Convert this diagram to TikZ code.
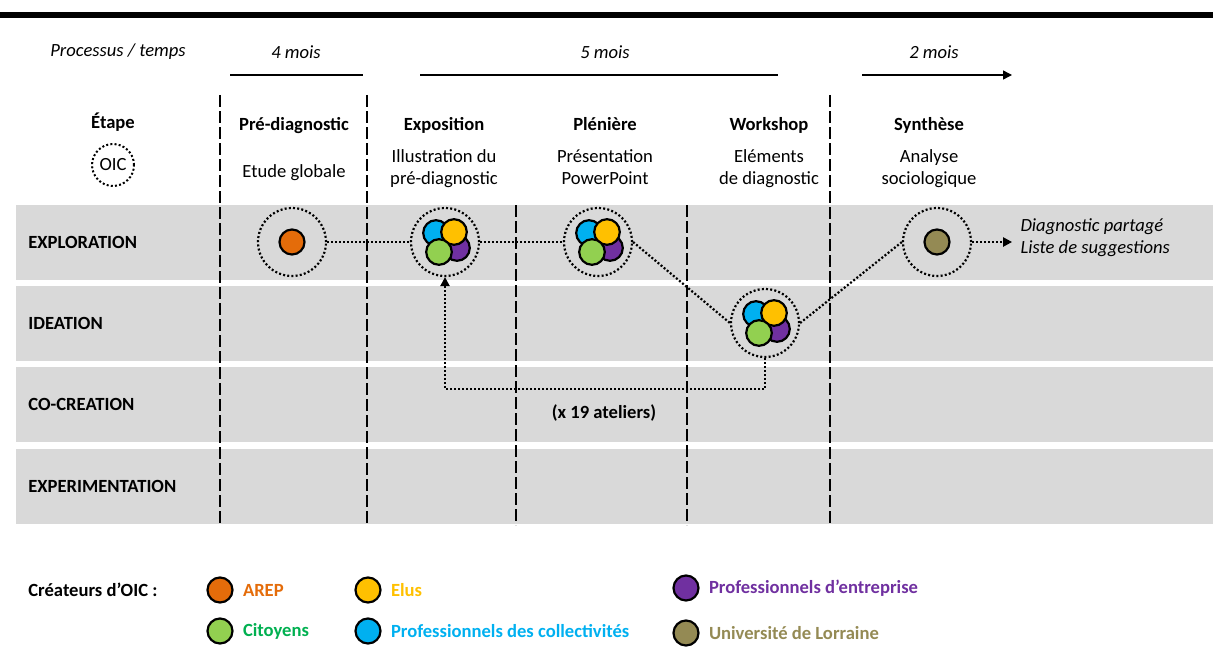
\documentclass[tikz,border=0pt]{standalone}
\usepackage{fontspec}
\setmainfont{Carlito}
\usetikzlibrary{arrows.meta, positioning}
\definecolor{cband}{RGB}{217,217,217}
\definecolor{carep}{RGB}{228,108,10}
\definecolor{celus}{RGB}{255,192,0}
\definecolor{ccit}{RGB}{146,208,80}
\definecolor{ccittxt}{RGB}{0,176,80}
\definecolor{ccoll}{RGB}{0,176,240}
\definecolor{centr}{RGB}{112,48,160}
\definecolor{cuniv}{RGB}{148,138,84}
\newcommand{\diagfont}{\fontsize{9.3}{11}\selectfont}

\begin{document}
\begin{tikzpicture}[
  x=0.5pt, y=-0.5pt,
  every node/.style = {font=\diagfont, inner sep=0pt},
  rowlbl/.style  = {anchor=west, font=\diagfont\bfseries},
  phase/.style   = {anchor=base, font=\diagfont\bfseries},
  descr/.style   = {anchor=base, align=center},
  duree/.style   = {font=\diagfont\itshape},
  divider/.style = {line width=0.7pt, dash pattern=on 6pt off 2pt},
  span/.style    = {line width=0.7pt},
  oic/.style     = {circle, draw, line width=1.1pt, dash pattern=on 1pt off 1.1pt,
                    minimum size=34pt},
  flow/.style    = {line width=1.1pt, dash pattern=on 1pt off 1pt},
  tip/.style     = {-{Triangle[length=4.5pt,width=4.5pt]}},
  dot/.style     = {circle, draw, line width=1.1pt, fill=#1, minimum size=12.5pt},
  lgtxt/.style   = {anchor=west, font=\diagfont\bfseries, text=#1},
]
\useasboundingbox (0,0) rectangle (1213,658);
% Top rule
\draw[line width=3pt] (0,15) -- (1213,15);
% Rows
\foreach \t/\n [count=\i] in {205/EXPLORATION, 286/IDEATION, 367/CO-CREATION, 449/EXPERIMENTATION} {
  \fill[cband] (16,\t) rectangle (1213,\t+75);
  \node[rowlbl] (row\i) at (28,\t+37) {\n};
}
% Phase dividers
\foreach \x/\y in {220/95, 367/95, 516/205, 687/205, 830/95}
  \draw[divider] (\x,\y) -- (\x,525);
% Durations
\node[duree] (proc) at (118,52) {Processus / temps};
\node[duree] (d4)   at (296,52) {4 mois};
\node[duree] (d5)   at (605,52) {5 mois};
\node[duree] (d2)   at (934,52) {2 mois};
\coordinate (d4a) at (230,75);  \coordinate (d4b) at (363,75);
\coordinate (d5a) at (420,75);  \coordinate (d5b) at (778,75);
\coordinate (d2a) at (862,75);  \coordinate (d2b) at (1012,75);
\draw[span] (d4a) -- (d4b);
\draw[span] (d5a) -- (d5b);
\draw[span, tip] (d2a) -- (d2b);
% Phase titles and descriptions
\node[phase] (tetape) at (113,128) {Étape};
\node[oic, minimum size=21pt, line width=1pt] (oicl) at (113,165) {OIC};
\node[phase] (tpre)   at (294,130) {Pré-diagnostic};
\node[phase] (texpo)  at (444,130) {Exposition};
\node[phase] (tplen)  at (605,130) {Plénière};
\node[phase] (twork)  at (769,130) {Workshop};
\node[phase] (tsynth) at (929,130) {Synthèse};
\node[descr] (dpre)   at (294,177) {Etude globale};
\node[descr] (dexpo)  at (444,184) {Illustration du\\pré-diagnostic};
\node[descr] (dplen)  at (605,184) {Présentation\\PowerPoint};
\node[descr] (dwork)  at (769,184) {Eléments\\de diagnostic};
\node[descr] (dsynth) at (929,184) {Analyse\\sociologique};
% OIC circles
\node[oic] (pdiag) at (292,242) {};
\node[oic] (expo)  at (445,242) {};
\node[oic] (plen)  at (598,242) {};
\node[oic] (work)  at (765,323) {};
\node[oic] (synth) at (937,242) {};
\node[dot=carep] (inpre)   at (pdiag) {};
\node[dot=cuniv] (insynth) at (synth) {};
\foreach \c in {expo, plen, work} {
  \begin{scope}[shift={(\c)}, line width=1.1pt]
    \filldraw[fill=ccoll] (-9,-9)  circle[radius=6.4pt];
    \filldraw[fill=centr] (12,6)   circle[radius=6.4pt];
    \filldraw[fill=celus] (9,-10)  circle[radius=6.4pt];
    \filldraw[fill=ccit]  (-6,10)  circle[radius=6.4pt];
  \end{scope}
}
% Flow
\draw[flow] (pdiag) -- (expo);
\draw[flow] (expo) -- (plen);
\draw[flow] (plen.east) -- (work.west);
\draw[flow] (work.east) -- (synth.west);
\draw[flow, tip] (work.south) -- ++(0,31) -| (expo.south);
\node[font=\diagfont\bfseries] (ateliers) at (604,413) {(x 19 ateliers)};
\node[anchor=west, align=left, font=\diagfont\itshape, right=24pt of synth, yshift=2pt] (result)
  {Diagnostic partagé\\Liste de suggestions};
\draw[flow, tip, shorten >=4pt] (synth) -- (result.west |- synth);
% Legend
\node[anchor=west, font=\diagfont\bfseries] (lgtitle) at (28,590) {Créateurs d’OIC :};
\foreach \nm/\fc/\tc/\x/\y/\txt in {arep/carep/carep/220/590/AREP,
    elus/celus/celus/368/590/Elus,
    entr/centr/centr/686/588/Professionnels d’entreprise,
    cit/ccit/ccittxt/220/631/Citoyens,
    coll/ccoll/ccoll/368/631/Professionnels des collectivités,
    univ/cuniv/cuniv/686/633/Université de Lorraine} {
  \node[dot=\fc] (lg\nm) at (\x,\y) {};
  \node[lgtxt=\tc, right=4.5pt of lg\nm] (lt\nm) {\txt};
}
\end{tikzpicture}
\end{document}
